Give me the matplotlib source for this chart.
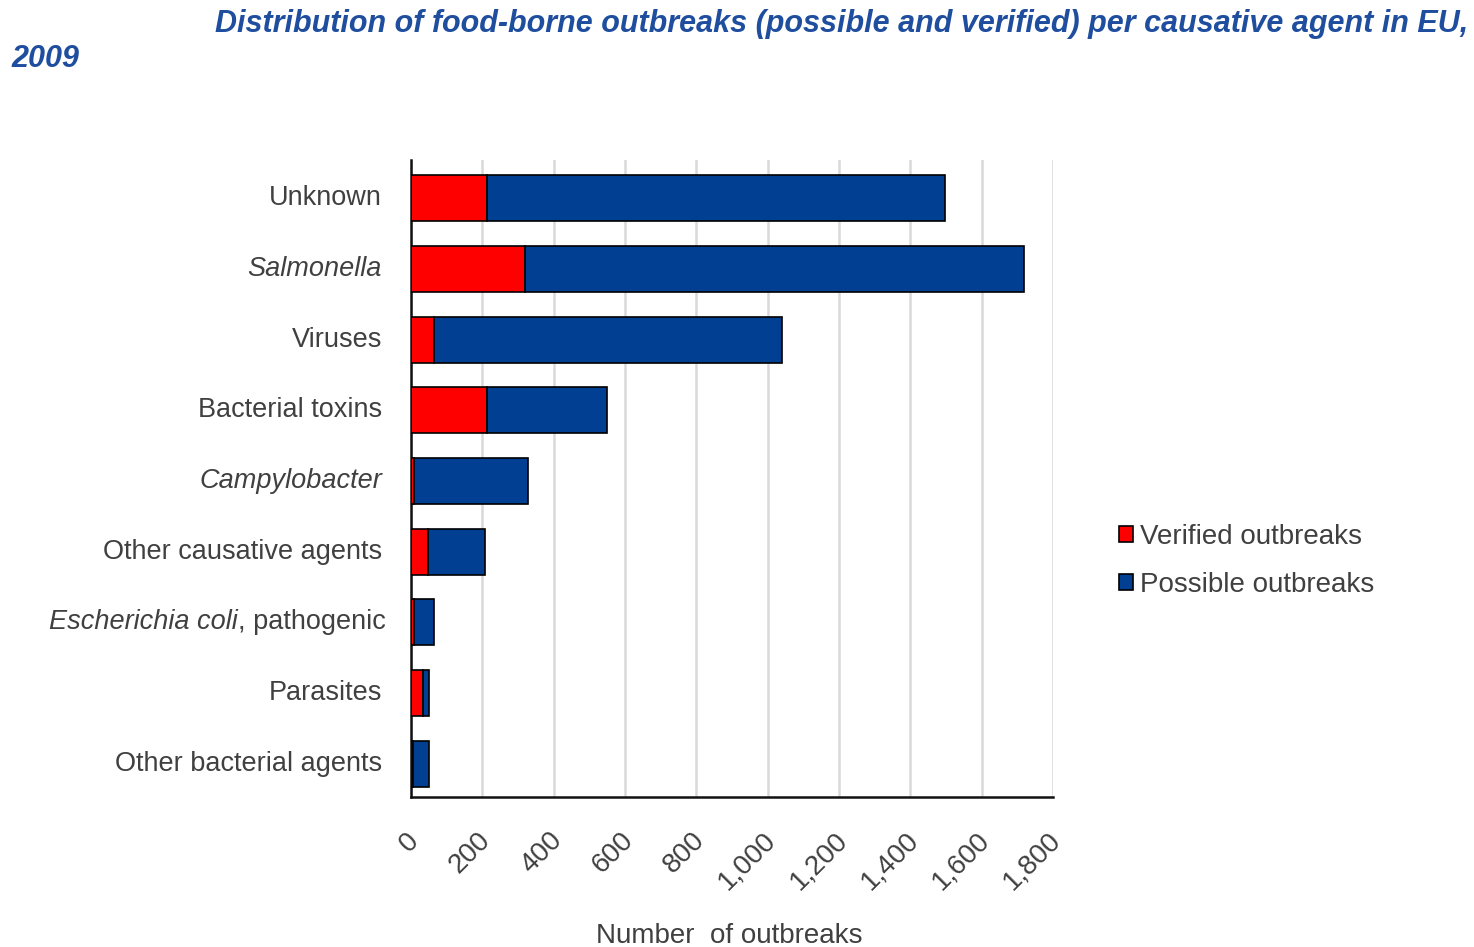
import matplotlib
matplotlib.use('Agg')
import matplotlib.pyplot as plt
from matplotlib.ticker import FuncFormatter
from matplotlib.transforms import offset_copy, ScaledTranslation

plt.rcParams['font.family'] = ['Liberation Sans', 'DejaVu Sans']

# 원인체별 식중독 발생 건수 (EU, 2009)
agents = ['Unknown', 'Salmonella', 'Viruses', 'Bacterial toxins', 'Campylobacter',
          'Other causative agents', 'Escherichia coli, pathogenic', 'Parasites',
          'Other bacterial agents']
italic_agents = ['Salmonella', 'Campylobacter']
verified = [213, 321, 65, 213, 8, 48, 8, 34, 6]
total = [1497, 1718, 1040, 549, 329, 208, 66, 50, 50]
possible = [t - v for t, v in zip(total, verified)]

red = '#ff0000'
blue = '#003f91'
text_gray = '#404040'
title_blue = '#1f4e9f'

fig = plt.figure(figsize=(14.74, 9.47), dpi=100)
ax = fig.add_axes([0.2788, 0.1585, 0.4356, 0.6725])

y = list(range(len(agents)))
ax.barh(y, verified, height=0.65, color=red, edgecolor='black', linewidth=1.2,
        label='Verified outbreaks', zorder=3)
ax.barh(y, possible, left=verified, height=0.65, color=blue, edgecolor='black',
        linewidth=1.2, label='Possible outbreaks', zorder=3)

ax.set_ylim(8.47, -0.54)
ax.set_xlim(0, 1800)
ax.set_xticks(range(0, 1801, 200))
ax.xaxis.set_major_formatter(FuncFormatter(lambda v, p: f'{int(v):,}'))
ax.grid(axis='x', color='#d9d9d9', linewidth=1.8, zorder=0)

for s in ['top', 'right']:
    ax.spines[s].set_visible(False)
for s in ['left', 'bottom']:
    ax.spines[s].set_linewidth(1.8)
    ax.spines[s].set_color('#111111')

ax.set_yticks(y)
ax.set_yticklabels([])
ax.tick_params(axis='y', length=0)
ax.tick_params(axis='x', length=0, labelsize=20, labelcolor=text_gray, pad=22)
shift = ScaledTranslation(-5 / 100, 0, fig.dpi_scale_trans)
for lab in ax.get_xticklabels():
    lab.set_rotation(45)
    lab.set_ha('right')
    lab.set_rotation_mode('anchor')
    lab.set_transform(lab.get_transform() + shift)

# y축 라벨 (학명은 이탤릭)
ytrans = ax.get_yaxis_transform()
renderer = fig.canvas.get_renderer()
for i, name in enumerate(agents):
    if name.startswith('Escherichia'):
        t2 = ax.text(-0.04, i, ', pathogenic', transform=ytrans,
                     ha='right', va='center', fontsize=19.5, color=text_gray)
        w = t2.get_window_extent(renderer=renderer).width
        ax.text(-0.04, i, 'Escherichia coli',
                transform=offset_copy(ytrans, fig=fig, x=-w, units='dots'),
                ha='right', va='center', fontsize=19.5, color=text_gray, style='italic')
    else:
        ax.text(-0.045, i, name, transform=ytrans,
                ha='right', va='center', fontsize=19.5, color=text_gray,
                style='italic' if name in italic_agents else 'normal')

fig.text(0.495, -0.002, 'Number  of outbreaks', ha='center', va='bottom',
         fontsize=20, color=text_gray)

ax.legend(loc='upper left', bbox_to_anchor=(1.103, 0.429), frameon=False,
          borderpad=0, borderaxespad=0,
          fontsize=20, handlelength=0.5, handleheight=0.5, handletextpad=0.25,
          labelspacing=0.8, labelcolor=text_gray)

fig.text(0.996, 0.975, 'Distribution of food-borne outbreaks (possible and verified) per causative agent in EU,',
         ha='right', va='center', fontsize=22, fontweight='bold', style='italic',
         color=title_blue)
fig.text(0.008, 0.938, '2009', ha='left', va='center', fontsize=22,
         fontweight='bold', style='italic', color=title_blue)

fig.savefig('out.png', dpi=100)
